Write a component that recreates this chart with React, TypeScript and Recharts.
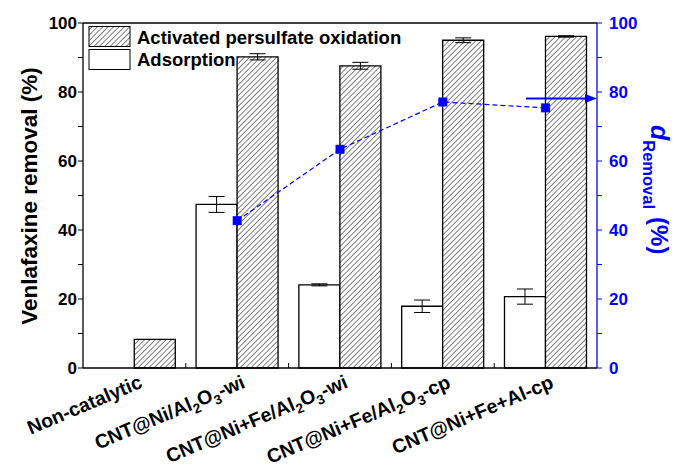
import {
	Bar,
	ComposedChart,
	ErrorBar,
	Line,
	ReferenceLine,
	XAxis,
	YAxis,
} from "recharts";

const categories = [
	"Non-catalytic",
	"CNT@Ni/Al2O3-wi",
	"CNT@Ni+Fe/Al2O3-wi",
	"CNT@Ni+Fe/Al2O3-cp",
	"CNT@Ni+Fe+Al-cp",
];
const adsorption = [null, 47.4, 24.1, 17.9, 20.7];
const adsorptionErr = [0, 2.3, 0.3, 1.8, 2.2];
const oxidation = [8.3, 90.2, 87.6, 95.0, 96.1];
const oxidationErr = [0, 0.9, 1.0, 0.7, 0.2];
const dRemoval = [null, 42.7, 63.4, 77.1, 75.4];
const arrowLevel = 78.1;
const yTicks = [0, 10, 20, 30, 40, 50, 60, 70, 80, 90, 100];

const BLUE = "#0000ff";
const FONT = "'Liberation Sans', Arial, sans-serif";
const W = 675;
const H = 466;
const PLOT_LEFT = 83;
const PLOT_RIGHT = 597;
const PLOT_TOP = 23;
const PLOT_BOTTOM = 368;
const HALF_BAND = (PLOT_RIGHT - PLOT_LEFT) / categories.length / 2;

const data = categories.map((name, i) => ({
	name,
	ads: adsorption[i],
	adsErr: adsorptionErr[i],
	ox: oxidation[i],
	oxErr: oxidationErr[i],
	d: dRemoval[i],
}));

// split "Al2O3" style names into text + subscript parts
function splitSub(label: string) {
	const parts: { t: string; sub: boolean }[] = [];
	let buf = "";
	for (let i = 0; i < label.length; i++) {
		const c = label[i];
		if (/[0-9]/.test(c) && i > 0 && /[A-Za-z]/.test(label[i - 1])) {
			if (buf) parts.push({ t: buf, sub: false });
			buf = "";
			parts.push({ t: c, sub: true });
		} else buf += c;
	}
	if (buf) parts.push({ t: buf, sub: false });
	return parts;
}

function XTick(props: any) {
	const { x, payload, index } = props;
	const parts = splitSub(String(payload.value));
	const ax = x + 9;
	const ay = PLOT_BOTTOM + 19;
	return (
		<g>
			{index < categories.length - 1 && (
				<line
					x1={x + HALF_BAND}
					x2={x + HALF_BAND}
					y1={PLOT_BOTTOM}
					y2={PLOT_BOTTOM - 5}
					stroke="#000"
					strokeWidth={1}
				/>
			)}
			<text
				x={ax}
				y={ay}
				textAnchor="end"
				transform={`rotate(-23, ${ax}, ${ay})`}
				fontFamily={FONT}
				fontWeight="bold"
				fontSize={19.5}
				fill="#000"
			>
				{parts.map((p, i) => {
					const prevSub = i > 0 && parts[i - 1].sub;
					const dy = p.sub ? 5 : prevSub ? -5 : 0;
					return (
						<tspan key={i} dy={dy} fontSize={p.sub ? 13.5 : 19.5}>
							{p.t}
						</tspan>
					);
				})}
			</text>
		</g>
	);
}

function LeftTick(props: any) {
	const { x, y, payload } = props;
	if (payload.value % 20 !== 0) return <g />;
	return (
		<text
			x={x}
			y={y}
			dy={6}
			textAnchor="end"
			fontFamily={FONT}
			fontWeight="bold"
			fontSize={17}
			fill="#000"
		>
			{payload.value}
		</text>
	);
}

function RightTick(props: any) {
	const { x, y, payload } = props;
	if (payload.value % 20 !== 0) return <g />;
	return (
		<text
			x={x}
			y={y}
			dy={6}
			textAnchor="start"
			fontFamily={FONT}
			fontWeight="bold"
			fontSize={17}
			fill={BLUE}
		>
			{payload.value}
		</text>
	);
}

function SquareDot(props: any) {
	const { cx, cy, index } = props;
	if (cx == null || cy == null) return <g key={index} />;
	return (
		<rect key={index} x={cx - 4.5} y={cy - 4.5} width={9} height={9} fill={BLUE} />
	);
}

function Arrow(props: any) {
	const { x1, x2, y1 } = props;
	const end = Math.max(x1, x2);
	return (
		<g>
			<line x1={end - 71} y1={y1} x2={end - 8} y2={y1} stroke={BLUE} strokeWidth={2} />
			<polygon
				points={`${end},${y1} ${end - 12},${y1 - 4.5} ${end - 12},${y1 + 4.5}`}
				fill={BLUE}
			/>
		</g>
	);
}

function Hatch({ id }: { id: string }) {
	return (
		<pattern
			id={id}
			patternUnits="userSpaceOnUse"
			width={3.8}
			height={3.8}
			patternTransform="rotate(45)"
		>
			<rect width={3.8} height={3.8} fill="#fff" />
			<line x1={0} y1={0} x2={0} y2={3.8} stroke="#000" strokeWidth={1} />
		</pattern>
	);
}

export default function App() {
	return (
		<div style={{ position: "relative", width: W, height: H }}>
			<style>{"body{margin:0}"}</style>
			<ComposedChart
				width={W}
				height={H}
				data={data}
				margin={{ top: PLOT_TOP, right: 0, bottom: 0, left: 0 }}
				barCategoryGap="10%"
				barGap={0}
			>
				<defs>
					<Hatch id="hatchBar" />
				</defs>
				<XAxis
					dataKey="name"
					interval={0}
					height={H - PLOT_BOTTOM}
					tickLine={false}
					axisLine={{ stroke: "#000", strokeWidth: 1.3 }}
					tick={<XTick />}
				/>
				<YAxis
					yAxisId="left"
					domain={[0, 100]}
					ticks={yTicks}
					width={PLOT_LEFT}
					tickSize={5}
					tickMargin={1}
					axisLine={{ stroke: "#000", strokeWidth: 1.3 }}
					tickLine={{ stroke: "#000", strokeWidth: 1 }}
					tick={<LeftTick />}
				/>
				<YAxis
					yAxisId="right"
					orientation="right"
					domain={[0, 100]}
					ticks={yTicks}
					width={W - PLOT_RIGHT}
					tickSize={5}
					tickMargin={7}
					axisLine={{ stroke: BLUE, strokeWidth: 1.3 }}
					tickLine={{ stroke: BLUE, strokeWidth: 1 }}
					tick={<RightTick />}
				/>
				<ReferenceLine yAxisId="left" y={100} stroke="#000" strokeWidth={1.3} />
				<Bar
					yAxisId="left"
					dataKey="ads"
					fill="#fff"
					stroke="#000"
					strokeWidth={1.3}
					isAnimationActive={false}
				>
					<ErrorBar dataKey="adsErr" width={8} stroke="#000" strokeWidth={1} />
				</Bar>
				<Bar
					yAxisId="left"
					dataKey="ox"
					fill="url(#hatchBar)"
					stroke="#000"
					strokeWidth={1.3}
					isAnimationActive={false}
				>
					<ErrorBar dataKey="oxErr" width={8} stroke="#000" strokeWidth={1} />
				</Bar>
				<Line
					yAxisId="right"
					dataKey="d"
					stroke={BLUE}
					strokeWidth={1.2}
					strokeDasharray="5 3"
					dot={<SquareDot />}
					activeDot={false}
					isAnimationActive={false}
				/>
				<ReferenceLine yAxisId="right" y={arrowLevel} shape={<Arrow />} />
			</ComposedChart>
			<svg
				width={W}
				height={H}
				style={{ position: "absolute", left: 0, top: 0, pointerEvents: "none" }}
			>
				<defs>
					<Hatch id="hatchLegend" />
				</defs>
				<rect x={89} y={26.5} width={41} height={20} fill="url(#hatchLegend)" stroke="#000" strokeWidth={1} />
				<text x={137} y={44} fontFamily={FONT} fontWeight="bold" fontSize={18.5} fill="#000">
					Activated persulfate oxidation
				</text>
				<rect x={89} y={49.5} width={41} height={20} fill="#fff" stroke="#000" strokeWidth={1} />
				<text x={137} y={66} fontFamily={FONT} fontWeight="bold" fontSize={18.5} fill="#000">
					Adsorption
				</text>
				<text
					x={37}
					y={196}
					transform="rotate(-90, 37, 196)"
					textAnchor="middle"
					fontFamily={FONT}
					fontWeight="bold"
					fontSize={22.5}
					fill="#000"
				>
					Venlafaxine removal (%)
				</text>
				<text
					x={651}
					y={125}
					transform="rotate(90, 651, 125)"
					fontFamily={FONT}
					fontWeight="bold"
					fill={BLUE}
				>
					<tspan fontSize={25} fontStyle="italic">d</tspan>
					<tspan fontSize={16.5} dy={8}>Removal</tspan>
					<tspan fontSize={24} dy={-8} dx={8}>(%)</tspan>
				</text>
			</svg>
		</div>
	);
}
